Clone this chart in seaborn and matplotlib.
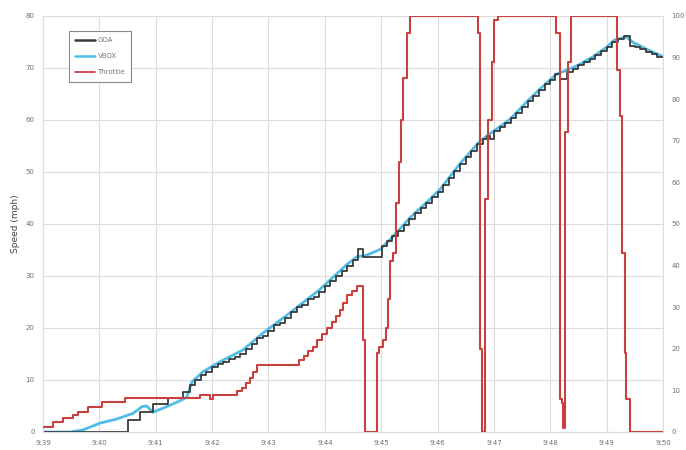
import matplotlib
matplotlib.use("Agg")
import matplotlib.pyplot as plt
import seaborn as sns
import pandas as pd
from matplotlib.lines import Line2D

# ---- data (time in minutes after 9:39) ----
tick_labels = ["9:39", "9:40", "9:41", "9:42", "9:43", "9:44",
               "9:45", "9:46", "9:47", "9:48", "9:49", "9:50"]

vbox_t = [0.00, 0.48, 0.71, 1.01, 1.31, 1.60, 1.76, 1.84, 1.95, 2.20, 2.43, 2.55,
          2.64, 2.84, 3.14, 3.55, 3.90, 4.38, 4.91, 5.39, 5.57, 5.74, 5.98, 6.28,
          6.51, 6.86, 7.04, 7.39, 7.75, 7.96, 8.28, 8.63, 8.81, 9.11, 9.47, 9.75,
          10.00, 10.14, 10.35, 10.46, 10.71, 11.00]
vbox_v = [0.0, 0.0, 0.4, 1.7, 2.5, 3.6, 4.9, 5.0, 3.8, 4.9, 6.0, 6.7,
          9.6, 11.6, 13.5, 15.8, 19.0, 22.9, 27.4, 32.2, 33.7, 34.0, 35.1, 38.4,
          41.2, 44.7, 46.6, 51.5, 55.9, 57.6, 60.1, 64.0, 65.9, 68.8, 70.4, 72.1,
          74.0, 75.4, 76.0, 75.0, 73.6, 72.2]

goa_t = [0.00, 1.51, 1.72, 1.95, 2.22, 2.48, 2.61, 2.70, 2.80, 2.90, 3.00, 3.10,
         3.20, 3.30, 3.40, 3.50, 3.60, 3.70, 3.80, 3.90, 4.00, 4.10, 4.20, 4.30,
         4.40, 4.50, 4.60, 4.70, 4.80, 4.90, 5.00, 5.10, 5.20, 5.30, 5.40, 5.50,
         5.58, 5.68, 6.01, 6.10, 6.20, 6.30, 6.40, 6.50, 6.60, 6.70, 6.80, 6.90,
         7.00, 7.10, 7.20, 7.30, 7.40, 7.50, 7.60, 7.70, 7.80, 7.87, 7.93, 8.00,
         8.10, 8.20, 8.30, 8.40, 8.50, 8.60, 8.70, 8.80, 8.90, 9.00, 9.08, 9.18,
         9.29, 9.40, 9.50, 9.60, 9.70, 9.80, 9.90, 10.00, 10.10, 10.20, 10.30, 10.41,
         10.50, 10.60, 10.70, 10.80, 10.90, 11.00]
goa_v = [0.0, 2.3, 3.8, 5.3, 6.6, 7.7, 9.0, 10.0, 11.0, 11.5, 12.5, 13.0,
         13.5, 14.0, 14.5, 15.0, 16.0, 17.0, 18.0, 18.5, 19.5, 20.5, 21.0, 22.0,
         23.0, 24.0, 24.5, 25.5, 26.0, 27.0, 28.0, 29.0, 30.0, 31.0, 32.0, 33.0,
         35.1, 33.7, 35.7, 36.7, 37.6, 38.6, 39.8, 41.0, 42.1, 43.1, 44.1, 45.1,
         46.2, 47.5, 48.8, 50.2, 51.5, 52.9, 54.1, 55.3, 56.3, 57.0, 56.3, 57.9,
         58.6, 59.4, 60.3, 61.4, 62.5, 63.6, 64.7, 65.8, 66.9, 67.6, 68.8, 67.9,
         69.2, 69.9, 70.5, 71.1, 71.7, 72.5, 73.2, 74.0, 75.0, 75.5, 76.2, 74.2,
         74.0, 73.6, 73.1, 72.6, 72.2, 72.2]

thr_t = [0.00, 0.18, 0.35, 0.53, 0.62, 0.80, 1.05, 1.45, 2.78, 2.96, 3.01, 3.37,
         3.45, 3.53, 3.60, 3.67, 3.73, 3.79, 4.47, 4.55, 4.63, 4.71, 4.79, 4.87,
         4.95, 5.04, 5.12, 5.20, 5.27, 5.33, 5.39, 5.48, 5.57, 5.66, 5.67, 5.71,
         5.89, 5.92, 5.97, 6.03, 6.08, 6.12, 6.15, 6.21, 6.26, 6.31, 6.35, 6.38,
         6.45, 6.51, 7.70, 7.71, 7.75, 7.78, 7.84, 7.85, 7.89, 7.96, 8.01, 8.07,
         9.08, 9.11, 9.17, 9.20, 9.22, 9.24, 9.26, 9.31, 9.36, 10.14, 10.18, 10.23,
         10.27, 10.32, 10.35, 10.41, 11.00]
thr_v = [1.2, 2.4, 3.4, 4.1, 4.8, 6.0, 7.2, 8.2, 8.9, 8.0, 8.9, 8.9,
         9.8, 10.6, 11.8, 13.0, 14.5, 16.1, 16.1, 17.2, 18.3, 19.4, 20.5, 22.0,
         23.5, 25.0, 26.5, 28.0, 29.4, 31.0, 33.0, 34.0, 35.2, 35.2, 22.0, 0.0,
         0.0, 19.0, 20.5, 22.0, 25.0, 32.0, 41.0, 43.0, 55.0, 65.0, 75.0, 85.0,
         96.0, 100.0, 100.0, 96.0, 20.0, 0.0, 0.0, 56.0, 75.0, 89.0, 99.0, 100.0,
         100.0, 96.0, 8.0, 7.0, 1.0, 1.0, 72.0, 89.0, 100.0, 100.0, 87.0, 76.0,
         43.0, 19.0, 8.0, 0.0, 0.0]

vbox_df = pd.DataFrame({"t": vbox_t, "speed": vbox_v})
goa_df = pd.DataFrame({"t": goa_t, "speed": goa_v})
thr_df = pd.DataFrame({"t": thr_t, "throttle": thr_v})

# ---- style ----
sns.set_style("white")
plt.rcParams["font.family"] = ["DejaVu Sans"]

c_goa = "#3a3a3a"
c_vbox = "#4fbde6"
c_thr = "#c9413f"
grid_c = "#dcdcdc"
tick_c = "#707070"

fig = plt.figure(figsize=(6.86, 4.5), dpi=100)
ax = fig.add_axes([43 / 686, 18 / 450, 620 / 686, 416 / 450])
ax2 = ax.twinx()

sns.lineplot(data=vbox_df, x="t", y="speed", ax=ax, color=c_vbox,
             linewidth=2.0, estimator=None, sort=False, zorder=2)
sns.lineplot(data=goa_df, x="t", y="speed", ax=ax, color=c_goa,
             linewidth=1.3, estimator=None, sort=False,
             drawstyle="steps-post", zorder=3)
sns.lineplot(data=thr_df, x="t", y="throttle", ax=ax2, color=c_thr,
             linewidth=1.5, estimator=None, sort=False,
             drawstyle="steps-post", zorder=4)

ax.set_xlim(0, 11)
ax.set_ylim(0, 80)
ax2.set_ylim(0, 100)
ax.set_xticks(range(12))
ax.set_xticklabels(tick_labels)
ax.set_yticks(range(0, 81, 10))
ax2.set_yticks(range(0, 101, 10))

ax.grid(True, color=grid_c, linewidth=0.8)
ax.set_axisbelow(True)
ax2.grid(False)

ax.set_xlabel("")
ax.set_ylabel("Speed (mph)", fontsize=6.5, color="#444444", labelpad=4)
ax2.set_ylabel("")

ax.tick_params(axis="both", length=0, labelsize=5, labelcolor=tick_c, pad=6)
ax2.tick_params(axis="y", length=0, labelsize=5, labelcolor=tick_c, pad=6)

for a in (ax, ax2):
    for s in a.spines.values():
        s.set_color(grid_c)
        s.set_linewidth(0.8)

handles = [Line2D([], [], color=c_goa, linewidth=1.8),
           Line2D([], [], color=c_vbox, linewidth=1.8),
           Line2D([], [], color=c_thr, linewidth=1.3)]
leg = ax2.legend(handles, ["GOA", "VBOX", "Throttle"], loc="upper left",
                 bbox_to_anchor=(69 / 686, 1 - 31 / 450),
                 bbox_transform=fig.transFigure, fontsize=5,
                 frameon=True, fancybox=False, framealpha=1,
                 edgecolor="#8a8a8a", handlelength=2.8, handletextpad=0.4,
                 labelspacing=1.45, borderpad=0.9, borderaxespad=0)
leg.get_frame().set_linewidth(0.8)
for txt in leg.get_texts():
    txt.set_color("#777777")

fig.savefig("out.png", dpi=100)
